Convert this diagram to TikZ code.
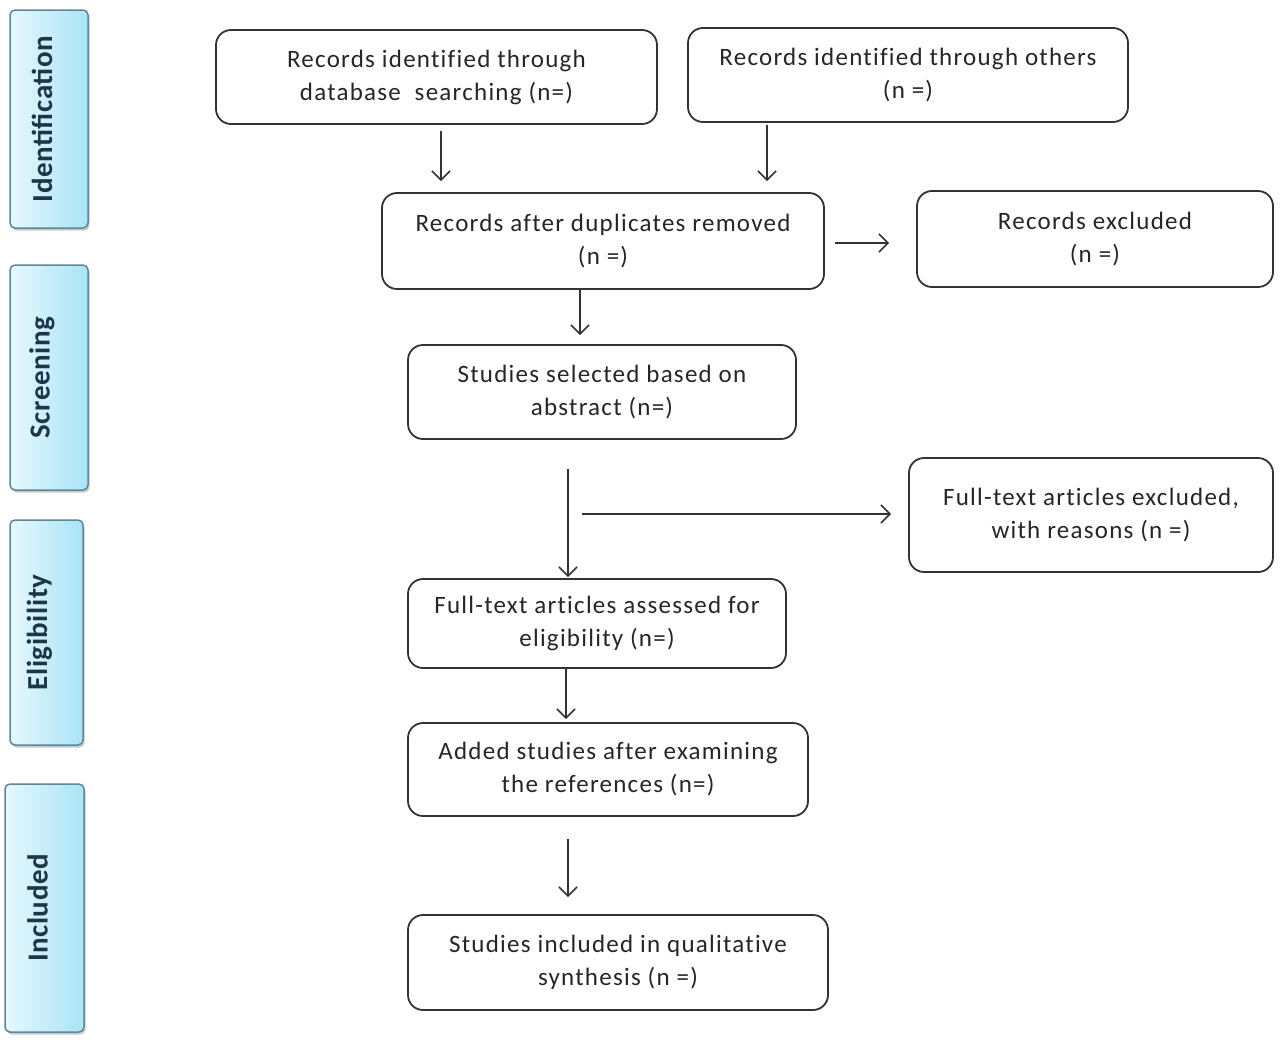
\documentclass[tikz,border=0pt]{standalone}
\usepackage{fontspec}
\setmainfont{Carlito}[Ligatures=NoCommon]
\newfontfamily\boxfont{Carlito}[Ligatures=NoCommon, LetterSpace=5]
\newfontfamily\sidefont{Carlito}[LetterSpace=2]
\usetikzlibrary{arrows.meta,shadows}
\definecolor{boxline}{HTML}{333333}
\definecolor{sidefillL}{HTML}{E6F8FD}
\definecolor{sidefillR}{HTML}{A9E4F6}
\definecolor{sideline}{HTML}{5F8797}
\definecolor{sidetext}{HTML}{1E3547}
\tikzset{
  flowbox/.style={draw=boxline, line width=1.8pt, rounded corners=15pt, align=center,
    inner sep=0pt, font=\boxfont\fontsize{25}{33}\selectfont, text=black!85},
  sidebox/.style={draw=sideline, line width=1.5pt, rounded corners=5pt,
    left color=sidefillL, right color=sidefillR, inner sep=0pt,
    drop shadow={shadow xshift=1.5pt, shadow yshift=-2.5pt, fill=black!35, opacity=0.6}},
  sidelabel/.style={rotate=90, font=\sidefont\fontsize{29}{32}\selectfont\bfseries, text=sidetext},
  arr/.style={draw=boxline, line width=1.6pt, -{Straight Barb[length=9pt, width=18pt, line width=1.6pt]}}
}
\begin{document}
\begin{tikzpicture}[x=1pt,y=-1pt]
\useasboundingbox[fill=white] (0,0) rectangle (1280,1044);

% side stage labels
\node[sidebox, minimum width=78pt, minimum height=218pt] (sI) at (49,119) {};
\node[sidelabel] (lI) at ([xshift=-7pt]sI.center) {Identification};
\node[sidebox, minimum width=78pt, minimum height=225pt] (sS) at (49,377.5) {};
\node[sidelabel] (lS) at ([xshift=-7pt]sS.center) {Screening};
\node[sidebox, minimum width=73pt, minimum height=225pt] (sE) at (46.5,632.5) {};
\node[sidelabel] (lE) at ([xshift=-7pt]sE.center) {Eligibility};
\node[sidebox, minimum width=79pt, minimum height=248pt] (sN) at (44.5,908) {};
\node[sidelabel] (lN) at ([xshift=-7pt]sN.center) {Included};

% flow boxes
\node[flowbox, minimum width=441pt, minimum height=94pt] (b1) at (436.5,77)
  {Records identified through\\database \ searching (n=)};
\node[flowbox, minimum width=440pt, minimum height=94pt] (b2) at (908,75)
  {Records identified through others\\(n =)};
\node[flowbox, minimum width=442pt, minimum height=96pt] (b3) at (603,241)
  {Records after duplicates removed\\(n =)};
\node[flowbox, minimum width=356pt, minimum height=96pt] (b4) at (1095,239)
  {Records excluded\\(n =)};
\node[flowbox, minimum width=388pt, minimum height=94pt] (b5) at (602,392)
  {Studies selected based on\\abstract (n=)};
\node[flowbox, minimum width=364pt, minimum height=114pt] (b6) at (1091,515)
  {Full-text articles excluded,\\with reasons (n =)};
\node[flowbox, minimum width=378pt, minimum height=89pt] (b7) at (597,623.5)
  {Full-text articles assessed for\\eligibility (n=)};
\node[flowbox, minimum width=400pt, minimum height=93pt] (b8) at (608,769.5)
  {Added studies after examining\\the references (n=)};
\node[flowbox, minimum width=420pt, minimum height=95pt] (b9) at (618,962.5)
  {Studies included in qualitative\\synthesis (n =)};

% connectors
\draw[arr, shorten <=6pt, shorten >=11pt] ([xshift=4.5pt]b1.south) -- ([xshift=4.5pt]b1.south |- b3.north);
\draw[arr, shorten <=2pt, shorten >=11pt] ([xshift=-141pt]b2.south) -- ([xshift=-141pt]b2.south |- b3.north);
\draw[arr, shorten <=10pt, shorten >=27pt] ([yshift=-2pt]b3.east) -- ([yshift=-2pt]b3.east -| b4.west);
\draw[arr, shorten >=9pt] ([xshift=-23pt]b3.south) -- ([xshift=-23pt]b3.south |- b5.north);
\draw[arr, shorten <=29pt, shorten >=1pt] ([xshift=-34pt]b5.south) -- ([xshift=-34pt]b5.south |- b7.north);
\coordinate (h) at (582,514);
\draw[arr, shorten >=17pt] (h) -- (h -| b6.west);
\draw[arr, shorten >=3pt] ([xshift=-31pt]b7.south) -- ([xshift=-31pt]b7.south |- b8.north);
\draw[arr, shorten <=22pt, shorten >=17pt] ([xshift=-40pt]b8.south) -- ([xshift=-40pt]b8.south |- b9.north);
\end{tikzpicture}
\end{document}
